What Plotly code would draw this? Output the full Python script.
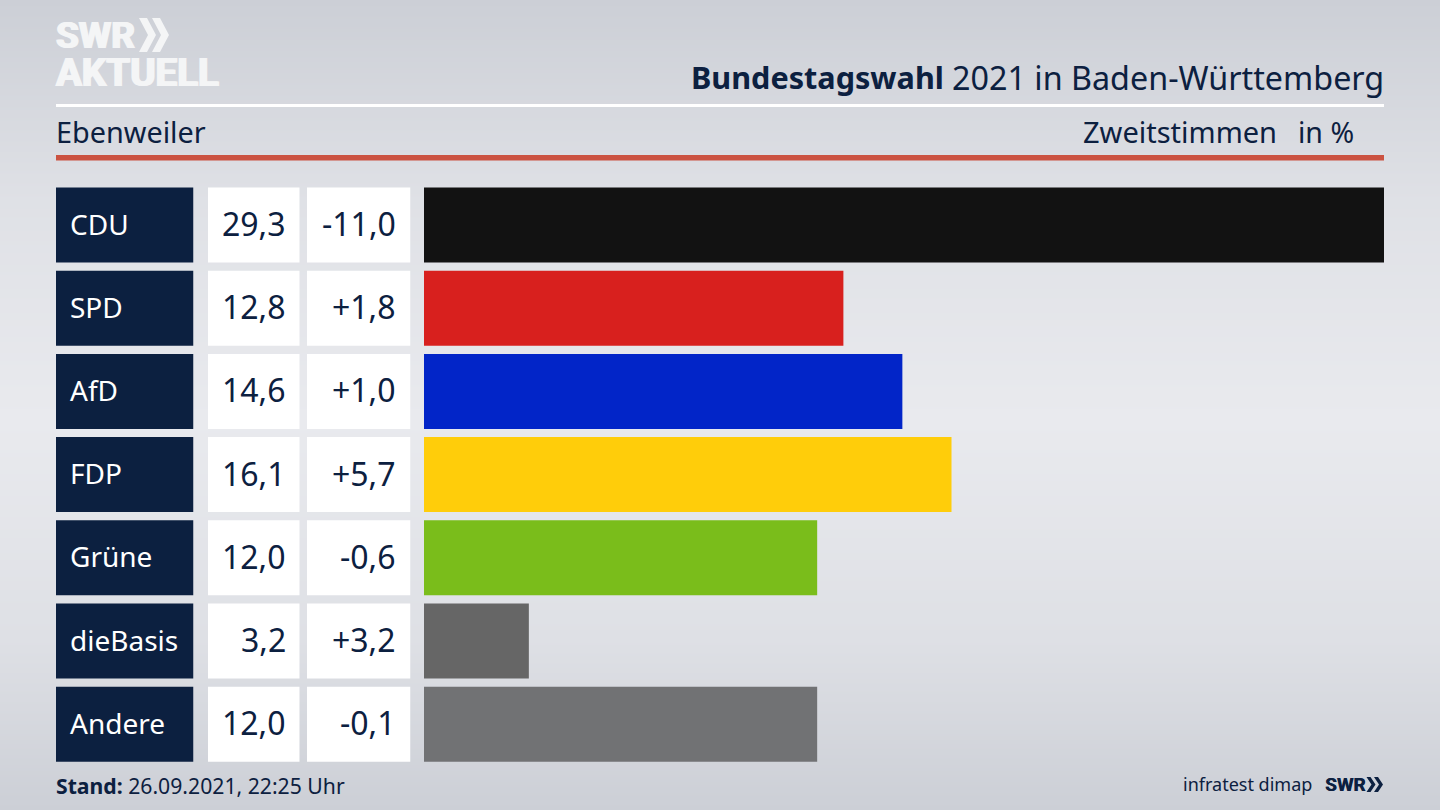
import plotly.graph_objects as go

# chart data
parties = ["CDU", "SPD", "AfD", "FDP", "Grüne", "dieBasis", "Andere"]
shares = [29.3, 12.8, 14.6, 16.1, 12.0, 3.2, 12.0]
shares_text = ["29,3", "12,8", "14,6", "16,1", "12,0", "3,2", "12,0"]
changes_text = ["-11,0", "+1,8", "+1,0", "+5,7", "-0,6", "+3,2", "-0,1"]
bar_colors = ["#121212", "#d8201e", "#0225c8", "#ffcd0a", "#7abd1b", "#666666", "#717274"]

W, H = 1440, 810
NAVY = "#0c2040"
LOGO = "#f4f5f6"
FONT = "Noto Sans"
LOGO_FONT = "Roboto"


def dom(left, right):
    return [left / W, right / W]


fig = go.Figure()

# background gradient, on a pixel sized subplot that also carries the texts
fig.add_trace(go.Heatmap(
    x=[0, W], y=[0, 200, 420, 640, H],
    z=[[0, 0], [0.66, 0.66], [1, 1], [0.62, 0.62], [0, 0]],
    zsmooth="best", showscale=False, hoverinfo="skip",
    colorscale=[[0, "#cccfd6"], [1, "#e9eaee"]],
    xaxis="x", yaxis="y",
))

# table columns are unit bars on their own axes
columns = [("x2", dom(56, 193.5), [NAVY] * 7),
           ("x3", dom(208, 299.7), ["white"] * 7),
           ("x4", dom(307, 410.5), ["white"] * 7)]
for xa, domain, colors in columns:
    fig.add_trace(go.Bar(x=[1] * 7, y=parties, orientation="h", marker=dict(color=colors, line_width=0),
                         xaxis=xa, yaxis="y2", hoverinfo="skip"))
    fig.layout[xa.replace("x", "xaxis")] = dict(domain=domain, range=[0, 1], visible=False, anchor="y2", fixedrange=True)

fig.add_trace(go.Bar(x=shares, y=parties, orientation="h", marker=dict(color=bar_colors, line_width=0),
                     xaxis="x5", yaxis="y2"))

fig.update_layout(
    width=W, height=H, margin=dict(l=0, r=0, t=0, b=0),
    paper_bgcolor="#dcdee3", plot_bgcolor="rgba(0,0,0,0)",
    showlegend=False, bargap=0.0986,
    font=dict(family=FONT, color=NAVY),
    xaxis=dict(domain=[0, 1], range=[0, W], visible=False, fixedrange=True),
    yaxis=dict(domain=[0, 1], range=[H, 0], visible=False, fixedrange=True),
    xaxis5=dict(domain=dom(424, 1384), range=[0, 29.3], visible=False, anchor="y2", fixedrange=True),
    yaxis2=dict(domain=[1 - 765.8 / H, 1 - 183.4 / H], categoryorder="array", categoryarray=parties,
                autorange="reversed", visible=False, anchor="x2", fixedrange=True),
)


def label(x, y, text, size, anchor="left", color=NAVY, yref="y", family=FONT, shadow=None, yshift=0):
    font = dict(size=size, color=color, family=family)
    if shadow:
        font["shadow"] = shadow
    fig.add_annotation(x=x, y=y, xref="x", yref=yref, text=text, showarrow=False, xanchor=anchor,
                       yanchor="middle", font=font, yshift=yshift)


# table text
for party, share, change in zip(parties, shares_text, changes_text):
    label(68, party, party, 28, color="white", yref="y2", yshift=1.5)
    label(288, party, share, 32, "right", yref="y2", yshift=1.5)
    label(398, party, change, 32, "right", yref="y2", yshift=1.5)

# header and footer
label(946, 77, "<b>Bundestagswahl</b>", 30.6, "right")
label(1386, 77, "2021 in Baden-Württemberg", 32.3, "right")
label(54, 131, "Ebenweiler", 28.8)
label(1279, 131, "Zweitstimmen", 29, "right")
label(1356, 132, "in %", 28.5, "right")
label(54, 785, "<b>Stand:</b> 26.09.2021, 22:25 Uhr", 21.2)
label(1314, 784, "infratest dimap", 18, "right")

# SWR logos
thick = f"1px 0 0 {LOGO}, -1px 0 0 {LOGO}"
label(54, 35, "<b>SWR</b>", 37, color=LOGO, family=LOGO_FONT, shadow=thick)
label(54, 72, "<b>AKTUELL</b>", 38.5, color=LOGO, family=LOGO_FONT, shadow=thick)
label(1323, 784, "<b>SWR</b>", 19, family=LOGO_FONT, shadow=f"0.5px 0 0 {NAVY}")

shapes = [
    dict(type="rect", x0=56, x1=1384, y0=104, y1=107, fillcolor="white"),
    dict(type="rect", x0=56, x1=1384, y0=155, y1=160.5, fillcolor="#cb5241"),
]
for x0, color, top, bot, arm, d in [(139, LOGO, 18, 52, 8, 9), (152, LOGO, 18, 52, 8, 9),
                                    (1366.5, NAVY, 777, 792, 4, 5), (1374, NAVY, 777, 792, 4, 5)]:
    mid = (top + bot) / 2
    path = f"M{x0},{top} L{x0 + arm},{top} L{x0 + arm + d},{mid} L{x0 + arm},{bot} L{x0},{bot} L{x0 + d},{mid} Z"
    shapes.append(dict(type="path", path=path, fillcolor=color))
for s in shapes:
    fig.add_shape(xref="x", yref="y", line_width=0, layer="above", **s)

fig.write_html("out.html", config=dict(displayModeBar=False),
               post_script="document.body.style.margin='0';document.body.style.overflow='hidden';")
